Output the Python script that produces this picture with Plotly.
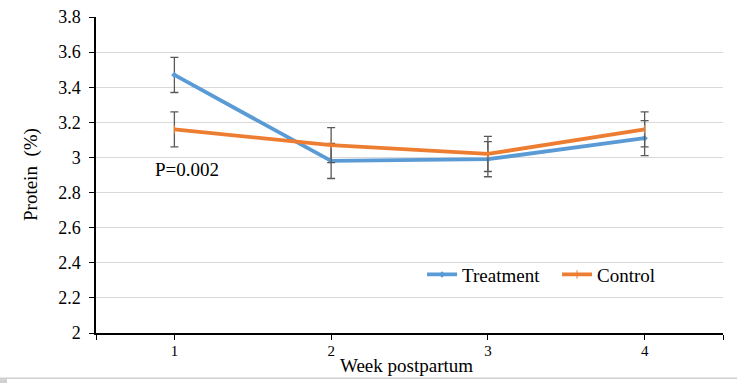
import plotly.graph_objects as go

weeks = [1, 2, 3, 4]
treatment = [3.47, 2.98, 2.99, 3.11]
treatment_err = [0.10, 0.10, 0.10, 0.10]
control = [3.16, 3.07, 3.02, 3.16]
control_err = [0.10, 0.10, 0.10, 0.10]
y_ticks = [2, 2.2, 2.4, 2.6, 2.8, 3, 3.2, 3.4, 3.6, 3.8]
y_tick_labels = ["2", "2.2", "2.4", "2.6", "2.8", "3", "3.2", "3.4", "3.6", "3.8"]

FONT = "Liberation Serif, Times New Roman, serif"
ERR_COLOR = "#595959"

fig = go.Figure()
fig.add_trace(go.Scatter(
    x=weeks, y=treatment, name="Treatment", mode="lines+markers",
    line=dict(color="#5B9BD5", width=3.8),
    marker=dict(symbol="diamond", size=5, color="#5B9BD5"),
    error_y=dict(type="data", array=treatment_err, color=ERR_COLOR, thickness=1.3, width=4),
))
fig.add_trace(go.Scatter(
    x=weeks, y=control, name="Control", mode="lines+markers",
    line=dict(color="#ED7D31", width=3.8),
    marker=dict(symbol="line-ns", size=6, color="#ED7D31", line=dict(color="#ED7D31", width=1)),
    error_y=dict(type="data", array=control_err, color=ERR_COLOR, thickness=1.3, width=4),
))

fig.add_annotation(x=1.08, y=2.93, xref="x", yref="y", text="P=0.002", showarrow=False,
                   font=dict(family=FONT, size=19, color="black"))
fig.add_annotation(x=0.5, y=0, xref="paper", yref="paper", yanchor="middle",
                   text="Week postpartum", showarrow=False,
                   font=dict(family=FONT, size=19, color="black"), yshift=-32, xshift=-3)
fig.add_annotation(x=0, y=0.5, xref="paper", yref="paper", xanchor="center",
                   text="Protein  (%)", textangle=-90, showarrow=False,
                   font=dict(family=FONT, size=19, color="black"), xshift=-65)

# page border artefact at the bottom
fig.add_shape(type="line", xref="paper", yref="paper", x0=-0.2, x1=1.1, y0=-0.143, y1=-0.143,
              line=dict(color="#CFCFCF", width=1.5))
fig.add_shape(type="rect", xref="paper", yref="paper", x0=-0.1531, x1=-0.1419, y0=-0.146, y1=-0.16,
              line=dict(width=0), fillcolor="#D0D0D0")

fig.update_layout(
    width=737, height=383,
    margin=dict(l=96, r=14, t=17, b=50, autoexpand=False),
    paper_bgcolor="white", plot_bgcolor="white",
    font=dict(family=FONT, size=18, color="black"),
    showlegend=True,
    legend=dict(orientation="h", x=0.52, y=0.185, xanchor="left", yanchor="middle",
                bgcolor="rgba(0,0,0,0)", font=dict(family=FONT, size=19, color="black"),
                itemwidth=30, tracegroupgap=0, entrywidth=90, entrywidthmode="pixels"),
    xaxis=dict(range=[0.5, 4.5], tickvals=[0.5, 1, 2, 3, 4, 4.5],
               ticktext=["", "1", "2", "3", "4", ""], automargin=False,
               showgrid=False, zeroline=False, showline=True, linecolor="black", linewidth=1.5,
               ticks="outside", ticklen=5, tickcolor="black", tickwidth=1,
               tickfont=dict(family=FONT, size=15, color="black"), ticklabelstandoff=-2),
    yaxis=dict(range=[2, 3.8], tickvals=y_ticks, ticktext=y_tick_labels, automargin=False,
               showgrid=True, gridcolor="#D9D9D9", gridwidth=1, zeroline=False,
               showline=True, linecolor="black", linewidth=1.5,
               ticks="outside", ticklen=5, tickcolor="black", tickwidth=1,
               tickfont=dict(family=FONT, size=18, color="black"), ticklabelstandoff=5),
)

fig.write_html("out.html", post_script="document.body.style.margin='0';",
               config={"displayModeBar": False})
